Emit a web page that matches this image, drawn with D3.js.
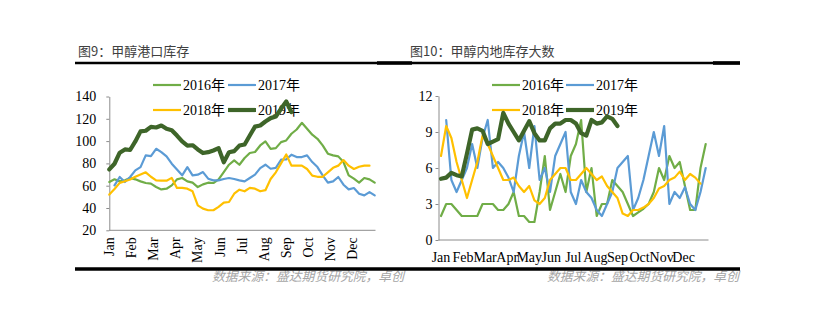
<!DOCTYPE html>
<html><head><meta charset="utf-8">
<script src="https://cdn.jsdelivr.net/npm/d3@7"></script>
<style>body{margin:0;background:#fff;}svg{display:block;}</style>
</head><body>
<svg id="c" width="816" height="327"></svg>
<script>
// ---------- data ----------
const months = ["Jan","Feb","Mar","Apr","May","Jun","Jul","Aug","Sep","Oct","Nov","Dec"];
const seriesNames = ["2016年","2017年","2018年","2019年"];
const portTicks = [20,40,60,80,100,120,140];
const inlandTicks = [0,3,6,9,12];

// 图9 甲醇港口库存 (weekly)
const port2016 = [63.3,65.7,63.9,64.8,66.9,65.7,63.9,62.4,61.8,58.8,56.7,57.3,60.3,65.7,66.9,63.9,62.7,58.8,61.2,62.7,62.4,65.7,72.2,78.8,82.7,78.8,84.8,89.3,90.2,96.1,99.7,93.1,93.7,99.1,100.6,106.6,110.4,116.4,111,105.7,102.1,96.1,88.7,87.2,86.3,81.2,69.3,66.3,62.7,66.9,65.7,62.7];
const port2017 = [null,60.3,67.8,63.3,67.8,73.7,76.7,87.2,86.6,93.1,90.1,86.3,79.7,74.6,69.3,76.7,69.3,69.9,72.2,66.3,64.8,64.8,66,66.9,66,64.8,63.9,66.9,69.9,75.8,78.8,75.2,76,83.3,83.6,87.8,85.7,85.7,87.2,81.2,76.7,69.3,62.7,63.9,67.8,60.9,56.7,57.9,52.8,51.3,54.3,51.3];
const port2018 = [52,57,62.5,64,65.5,68,70,72,68,64.8,64.5,64.5,67,58,58,57.3,55,42.4,39.4,38,38,41,44.8,45.4,52.8,56.4,55,58,57.3,55,56,66,72,80,88,78,78,78,75,69,68,68,72,76,78,83,78,75,77,78,78];
const port2019 = [74.6,79.7,89.6,92.5,92,99.7,108.7,109.3,112.8,112.2,114,111,109.8,105,99.7,96,96.3,92.5,89.3,90.1,91.6,93.7,81,90,91,96,97,105,113,114,117.6,120.6,122,129,135.5,126];

// 图10 甲醇内地库存大数 (weekly)
const inland2016 = [2,3,3,2.5,2,2,2,2,3,3,3,2.5,2.5,3,4,2,2,1.5,1.5,4,7,2.5,4,5.5,4,7,8,10,4,6,2,3,3,5,4.5,4,3,2,2.3,2.6,3,4,6,5,7,6,6.5,4.5,2.5,2.5,6,8];
const inland2017 = [null,10,5,4,5,6,8,6,8.5,10,6,6.5,6,5.2,4,7,9,6,9.5,5,6,4,7,8,9,4,3,5,4,3.5,2.5,2,3,4,6,6.5,7,2.5,3.5,5,7,9,7,9.5,3,4,3.5,4.4,3,2.5,4,6];
const inland2018 = [7,9.5,8.5,6.5,5,3.5,5,6.5,8.7,8,7,6,5,5,5.2,4.5,4,4.5,3.3,3,3.5,5,5.5,6,6,5,5,5.5,6,5.5,5,5.3,4.5,4,3.5,2.2,2,2.5,2.5,2.7,3,3.5,4.3,4.5,5,5.2,5.7,5,5.5,5.2,4.7];
const inland2019 = [5.1,5.2,5.6,5.4,5.3,7.2,9.2,9.3,9.1,8,8.2,8.4,10.6,9.7,9,8.3,9.1,9.9,8.9,8.3,8.3,9.3,9.7,9.7,10,10,9.7,8.9,8.7,10,9.7,9.8,10.3,10.1,9.5];

// ---------- style ----------
const colors = ["#70AD47","#5B9BD5","#FFC000","#3E6529"];
const widths = [2.2,2.2,2.2,4.2];
const serif = "'Liberation Serif','Times New Roman','Noto Sans CJK SC',serif";
const sans = "'Noto Sans CJK SC','Microsoft YaHei',sans-serif";
const axisColor = "#8c8c8c";

const svg = d3.select("#c");

function chart(o){
  const x = d3.scaleLinear().domain([0,51]).range(o.xr);
  const y = d3.scaleLinear().domain(o.yd).range(o.yr);
  const g = svg.append("g");

  // title
  svg.append("text").attr("x",o.titleX).attr("y",56).text(o.title)
    .attr("font-family",sans).attr("font-size",13).attr("fill","#404040");

  // legend (drawn under data)
  const leg = g.append("g");
  seriesNames.forEach((n,i)=>{
    const lx = o.legX[i%2], ly = o.legY[Math.floor(i/2)];
    leg.append("line").attr("x1",lx).attr("x2",lx+28).attr("y1",ly).attr("y2",ly)
      .attr("stroke",colors[i]).attr("stroke-width",widths[i]);
    leg.append("text").attr("x",lx+30).attr("y",ly).attr("dy","0.36em").text(n)
      .attr("font-family",serif).attr("font-size",14).attr("fill","#000");
  });

  // y axis
  const ya = g.append("g").attr("transform",`translate(${o.ax},0)`)
    .call(d3.axisLeft(y).tickValues(o.yt).tickSize(3).tickSizeOuter(0).tickPadding(o.pad).tickFormat(d3.format("d")));
  ya.select(".domain").attr("stroke",axisColor);
  ya.selectAll(".tick line").attr("stroke",axisColor);
  ya.selectAll(".tick text").attr("font-family",serif).attr("font-size",14).attr("fill","#000");
  ya.attr("font-family",null);

  // x axis line
  g.append("line").attr("x1",o.ax).attr("x2",o.axEnd).attr("y1",y(o.yd[0])).attr("y2",y(o.yd[0]))
    .attr("stroke",axisColor).attr("stroke-width",1);

  // month labels
  const ml = g.append("g");
  months.forEach((m,i)=>{
    const px = x(i*51/12);
    if(o.rotate){
      ml.append("text").attr("transform",`translate(${px},${y(o.yd[0])+7}) rotate(-90)`)
        .attr("text-anchor","end").attr("dy","0.33em").text(m)
        .attr("font-family",serif).attr("font-size",14).attr("fill","#000");
    } else {
      ml.append("text").attr("x",px).attr("y",y(o.yd[0])+22).attr("text-anchor","middle").text(m)
        .attr("font-family",serif).attr("font-size",14).attr("fill","#000");
    }
  });

  // series
  const line = d3.line().defined(d=>d!=null).x((d,i)=>x(i)).y(d=>y(d));
  o.data.forEach((arr,i)=>{
    g.append("path").datum(arr).attr("d",line).attr("fill","none")
      .attr("stroke",colors[i]).attr("stroke-width",widths[i])
      .attr("stroke-linejoin","round").attr("stroke-linecap","round");
  });

  // source
  svg.append("text").attr("x",o.srcX).attr("y",281).text("数据来源：盛达期货研究院，卓创")
    .attr("font-family",sans).attr("font-size",12.8).attr("font-style","italic").attr("fill","#A6A6A6");
}

chart({
  title:"图9：甲醇港口库存", titleX:78,
  xr:[109.3,374.7], yd:[20,140], yr:[230.3,96.5], yt:portTicks,
  ax:109.3, axEnd:375.5, pad:10, rotate:true,
  legX:[153,228], legY:[85,110],
  data:[port2016,port2017,port2018,port2019], srcX:212
});
chart({
  title:"图10：甲醇内地库存大数", titleX:410,
  xr:[441,705.7], yd:[0,12], yr:[240,96], yt:inlandTicks,
  ax:438.5, axEnd:708.5, pad:3, rotate:false,
  legX:[492,566], legY:[85,110],
  data:[inland2016,inland2017,inland2018,inland2019], srcX:547
});

// rules
svg.append("line").attr("x1",75).attr("x2",740).attr("y1",63).attr("y2",63).attr("stroke","#000").attr("stroke-width",2.6);
svg.append("line").attr("x1",377).attr("x2",412).attr("y1",63).attr("y2",63).attr("stroke","#000").attr("stroke-width",3.6);
svg.append("line").attr("x1",713).attr("x2",740).attr("y1",63).attr("y2",63).attr("stroke","#000").attr("stroke-width",3.6);
svg.append("line").attr("x1",75).attr("x2",740).attr("y1",269).attr("y2",269).attr("stroke","#000").attr("stroke-width",3.4);
</script>
</body></html>
